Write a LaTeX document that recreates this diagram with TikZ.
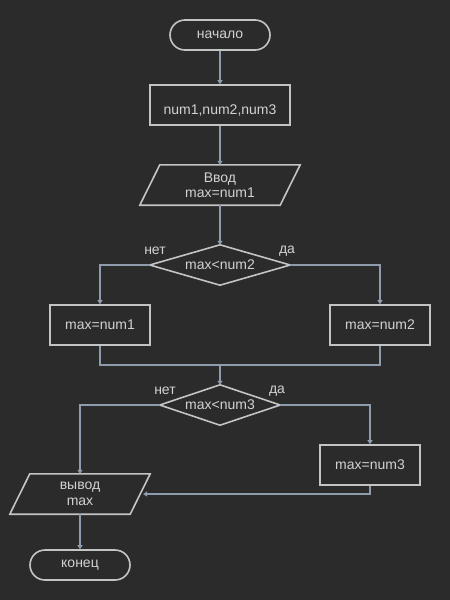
\documentclass[tikz,border=0pt]{standalone}
\usepackage{fontspec}
\setmainfont{Liberation Sans}
\usetikzlibrary{shapes.geometric,arrows.meta}
\definecolor{bgc}{HTML}{2B2B2B}
\definecolor{shapec}{HTML}{C4C4C4}
\definecolor{txtc}{HTML}{D2D2D2}
\definecolor{connc}{HTML}{8E9CAE}
\begin{document}
\begin{tikzpicture}[x=1pt,y=-1pt,
  every node/.style={text=txtc,font=\fontsize{14}{15.5}\selectfont,inner sep=0pt},
  termbox/.style={draw=shapec,line width=1.6pt,rounded corners=15pt,minimum width=100pt,minimum height=30pt},
  procbox/.style={draw=shapec,line width=1.6pt,minimum width=100pt,minimum height=40pt},
  iobox/.style={minimum width=140pt,minimum height=40pt,align=center},
  decbox/.style={minimum width=140pt,minimum height=40pt},
  shapeline/.style={draw=shapec,line width=1.6pt,line join=miter},
  conn/.style={draw=connc,line width=1.6pt},
  arr/.style={conn,-{Triangle[length=4pt,width=5pt]}},
  lbl/.style={text=txtc}
]
\fill[bgc] (0,0) rectangle (450,600);
\useasboundingbox (0,0) rectangle (450,600);

\node[termbox] (start) at (220,35) {начало};
\node[procbox,minimum width=140pt] (box1) at (220,105) {};
\node (box1t) at (220,111) {num1,num2,num3};
\node[iobox] (inp) at (220,185) {Ввод\\max=num1};
\draw[shapeline] ([xshift=10pt]inp.north west) -- ([xshift=10pt]inp.north east)
  -- ([xshift=-10pt]inp.south east) -- ([xshift=-10pt]inp.south west) -- cycle;
\node[decbox] (d1) at (220,265) {max<num2};
\draw[shapeline] (d1.north) -- (d1.east) -- (d1.south) -- (d1.west) -- cycle;
\node[lbl] (no1) at (155,251) {нет};
\node[lbl] (yes1) at (287,251) {да};
\node[procbox] (b1) at (100,325) {max=num1};
\node[procbox] (b2) at (380,325) {max=num2};
\coordinate (m) at (220,365);
\node[decbox,minimum width=120pt] (d2) at (220,405) {max<num3};
\draw[shapeline] (d2.north) -- (d2.east) -- (d2.south) -- (d2.west) -- cycle;
\node[lbl] (no2) at (165,391) {нет};
\node[lbl] (yes2) at (277,391) {да};
\node[procbox] (b3) at (370,465) {max=num3};
\node[iobox,minimum width=120pt] (out) at (80,494) {вывод\\max};
\draw[shapeline] ([xshift=10pt]out.north west) -- ([xshift=10pt]out.north east)
  -- ([xshift=-10pt]out.south east) -- ([xshift=-10pt]out.south west) -- cycle;
\node[termbox] (end) at (80,565) {конец};

\draw[arr] (start.south) -- (box1.north);
\draw[arr] (box1.south) -- (inp.north);
\draw[arr] (inp.south) -- (d1.north);
\draw[arr] (d1.west) -| (b1.north);
\draw[arr] (d1.east) -| (b2.north);
\draw[conn] (b1.south) |- (m) -| (b2.south);
\draw[arr] (m) -- (d2.north);
\draw[arr] (d2.west) -| (out.north);
\draw[arr] (d2.east) -| (b3.north);
\draw[arr] (b3.south) |- ([xshift=3pt]out.east);
\draw[arr] (out.south) -- (end.north);
\end{tikzpicture}
\end{document}
